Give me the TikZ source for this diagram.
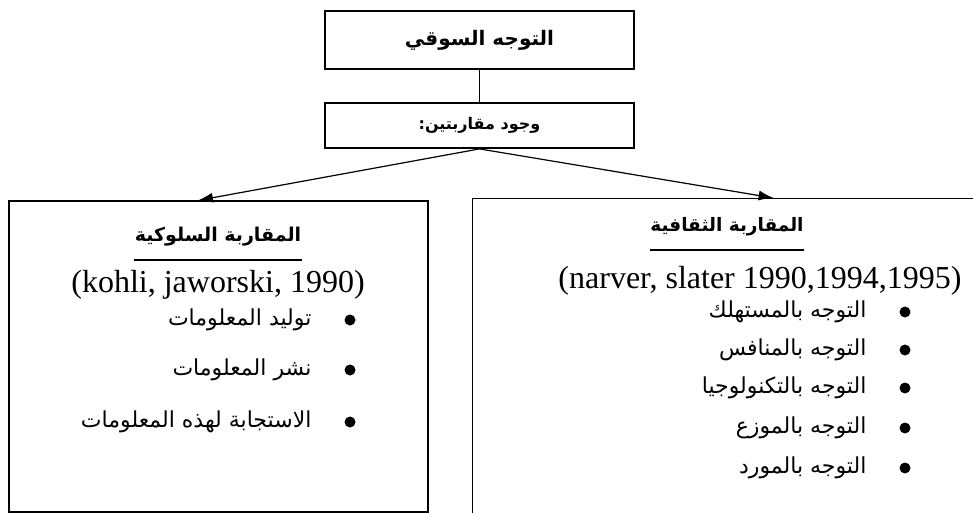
\documentclass[tikz,border=0pt]{standalone}
\usepackage{fontspec}
\setmainfont{Liberation Serif}
\newfontfamily\arabicfont[Script=Arabic]{DejaVu Sans}
\TeXXeTstate=1
\usepackage{tikz}
\usetikzlibrary{positioning,arrows.meta}

\begin{document}
\begin{tikzpicture}[x=1pt, y=-1pt, >={Latex[length=15pt,width=10pt]}, line width=1.2pt,
    box/.style={draw, line width=1.8pt, inner sep=0pt},
    head/.style={inner sep=0pt, font=\arabicfont\bfseries\fontsize{#1}{#1}\selectfont},
    cite/.style={inner sep=0pt, font=\fontsize{32}{36}\selectfont},
    item/.style={anchor=east, inner sep=0pt, font=\arabicfont\fontsize{22}{26}\selectfont},
    dot/.style={circle, fill, inner sep=0pt, minimum size=11pt}]
    \clip (0,0) rectangle (973,513);

    % Top boxes
    \node [box, minimum width=309pt, minimum height=58pt, head=20] (top) at (479.5,40) {\beginR التوجه السوقي\endR};
    \node [box, minimum width=309pt, minimum height=45pt, head=16] (mid) at (479.5,125.5) {\beginR وجود مقاربتين:\endR};
    \draw (top) -- (mid);

    % Behavioural approach
    \node [draw, minimum width=419pt, minimum height=311pt] (lbox) at (218.5,356.5) {};
    \node [head=19] (ltitle) at (218,237) {\beginR المقاربة السلوكية\endR};
    \draw (ltitle.west |- 0,260) -- (ltitle.east |- 0,260);
    \node [cite] (lcite) at (218,285) {(kohli, jaworski, 1990)};
    \node [dot] (ld1) at (350,320) {};
    \node [item] (l1) at (312,320) {\beginR توليد المعلومات\endR};
    \node [dot] (ld2) at (350,370) {};
    \node [item] (l2) at (312,370) {\beginR نشر المعلومات\endR};
    \node [dot] (ld3) at (350,422) {};
    \node [item] (l3) at (312,422) {\beginR الاستجابة لهذه المعلومات\endR};

    % Cultural approach
    \node [draw, minimum width=520pt, minimum height=340pt, anchor=north west] (rbox) at (472,198) {};
    \node [head=18.5] (rtitle) at (727,227) {\beginR المقاربة الثقافية\endR};
    \draw (rtitle.west |- 0,250) -- (rtitle.east |- 0,250);
    \node [cite] (rcite) at (760,281) {(narver, slater 1990,1994,1995)};
    \node [dot] (rd1) at (905,312) {};
    \node [item] (r1) at (867,312) {\beginR التوجه بالمستهلك\endR};
    \node [dot] (rd2) at (905,350) {};
    \node [item] (r2) at (867,350) {\beginR التوجه بالمنافس\endR};
    \node [dot] (rd3) at (905,388) {};
    \node [item] (r3) at (867,388) {\beginR التوجه بالتكنولوجيا\endR};
    \node [dot] (rd4) at (905,428) {};
    \node [item] (r4) at (867,428) {\beginR التوجه بالموزع\endR};
    \node [dot] (rd5) at (905,468) {};
    \node [item] (r5) at (867,468) {\beginR التوجه بالمورد\endR};

    % Arrows
    \draw [->] (mid.south) -- ([xshift=-20.5pt]lbox.north);
    \draw [->] (mid.south) -- ([xshift=41pt]rbox.north);
\end{tikzpicture}
\end{document}
